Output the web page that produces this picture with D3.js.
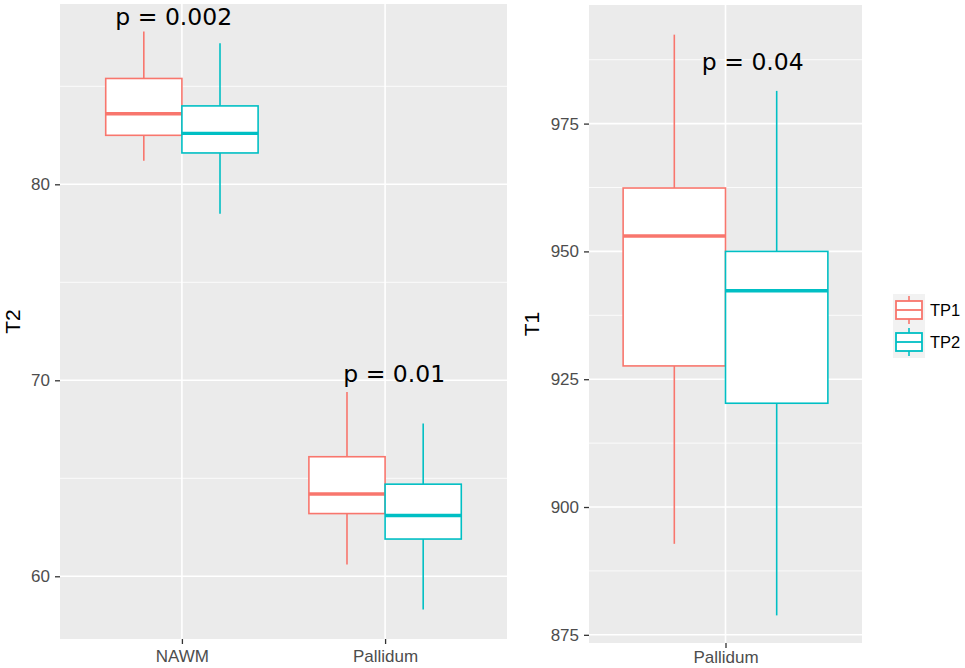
<!DOCTYPE html>
<html>
<head>
<meta charset="utf-8">
<script src="https://cdn.jsdelivr.net/npm/d3@7"></script>
<style>
  body { margin: 0; background: #fff; }
  .tick text { font-family: "Liberation Sans", Arial, sans-serif; }
</style>
</head>
<body>
<div id="chart"></div>
<script>
// data: [lower whisker, Q1, median, Q3, upper whisker]
var groups = ["TP1", "TP2"];
var colors = ["#F8766D", "#00BFC4"];

var t2Regions = ["NAWM", "Pallidum"];
var t2TP1 = [[81.2, 82.5, 83.6, 85.4, 87.8], [60.6, 63.2, 64.2, 66.1, 69.4]];
var t2TP2 = [[78.5, 81.6, 82.6, 84.0, 87.2], [58.3, 61.9, 63.1, 64.7, 67.8]];
var t2Ticks = [60, 70, 80];
var t2Minor = [65, 75, 85];
var t2PLabels = ["p = 0.002", "p = 0.01"];
var t2PPos = [[0.96, 88.55], [2.045, 70.35]];

var t1Regions = ["Pallidum"];
var t1TP1 = [[892.8, 927.6, 953.0, 962.4, 992.4]];
var t1TP2 = [[878.8, 920.3, 942.3, 950.0, 981.4]];
var t1Ticks = [875, 900, 925, 950, 975];
var t1Minor = [887.5, 912.5, 937.5, 962.5, 987.5];
var t1PLabels = ["p = 0.04"];
var t1PPos = [[1.12, 987.1]];

var width = 965, height = 668;

var svg = d3.select("#chart")
            .append("svg")
            .attr("width", width)
            .attr("height", height);

svg.append("rect")
   .attr("width", width)
   .attr("height", height)
   .attr("fill", "#fff");

function drawPanel(opt) {
    var w = opt.right - opt.left,
        h = opt.bottom - opt.top;

    var canvas = svg.append("g")
                .attr("transform", "translate(" + opt.left + "," + opt.top + ")");

    var n = opt.regions.length;
    var x = d3.scaleLinear().domain([0.4, n + 0.6]).range([0, w]),
        y = d3.scaleLinear().domain(opt.yDomain).range([h, 0]);

    canvas.append("rect")
          .attr("width", w)
          .attr("height", h)
          .attr("fill", "#ebebeb");

    // minor then major grid
    canvas.selectAll(".minor")
          .data(opt.minor)
          .enter()
          .append("line")
          .attr("x1", 0).attr("x2", w)
          .attr("y1", function(d) { return y(d); })
          .attr("y2", function(d) { return y(d); })
          .attr("stroke", "#fff")
          .attr("stroke-width", 0.8);
    canvas.selectAll(".majory")
          .data(opt.ticks)
          .enter()
          .append("line")
          .attr("x1", 0).attr("x2", w)
          .attr("y1", function(d) { return y(d); })
          .attr("y2", function(d) { return y(d); })
          .attr("stroke", "#fff")
          .attr("stroke-width", 1.6);
    canvas.selectAll(".majorx")
          .data(opt.regions)
          .enter()
          .append("line")
          .attr("y1", 0).attr("y2", h)
          .attr("x1", function(d, i) { return x(i + 1); })
          .attr("x2", function(d, i) { return x(i + 1); })
          .attr("stroke", "#fff")
          .attr("stroke-width", 1.6);

    // axes
    var yAxis = canvas.append("g")
            .call(d3.axisLeft(y).tickValues(opt.ticks).tickSize(5).tickPadding(5));
    var xAxis = canvas.append("g")
            .attr("transform", "translate(0," + h + ")")
            .call(d3.axisBottom(x).tickValues(d3.range(1, n + 1)).tickSize(5).tickPadding(opt.xPad)
                  .tickFormat(function(d) { return opt.regions[d - 1]; }));
    [yAxis, xAxis].forEach(function(a) {
        a.select(".domain").remove();
        a.selectAll(".tick line").attr("stroke", "#333").attr("stroke-width", 1.3);
        a.selectAll(".tick text")
         .attr("fill", "#4d4d4d")
         .attr("font-size", "17px");
    });

    canvas.append("text")
          .attr("transform", "rotate(-90)")
          .attr("x", -h / 2)
          .attr("y", opt.titleX - opt.left)
          .attr("dy", "0.36em")
          .attr("text-anchor", "middle")
          .attr("font-family", "Liberation Sans, Arial, sans-serif")
          .attr("font-size", "21px")
          .attr("fill", "#000")
          .text(opt.title);

    // boxes
    var bw = opt.boxWidth;
    opt.series.forEach(function(stats, g) {
        var off = (g - 0.5) * bw;
        var grp = canvas.append("g");
        stats.forEach(function(s, i) {
            var cx = x(i + 1 + off),
                x0 = x(i + 1 + off - bw / 2),
                x1 = x(i + 1 + off + bw / 2);
            grp.append("line")
               .attr("x1", cx).attr("x2", cx)
               .attr("y1", y(s[4])).attr("y2", y(s[3]))
               .attr("stroke", colors[g]).attr("stroke-width", 1.6);
            grp.append("line")
               .attr("x1", cx).attr("x2", cx)
               .attr("y1", y(s[1])).attr("y2", y(s[0]))
               .attr("stroke", colors[g]).attr("stroke-width", 1.6);
            grp.append("rect")
               .attr("x", x0)
               .attr("y", y(s[3]))
               .attr("width", x1 - x0)
               .attr("height", y(s[1]) - y(s[3]))
               .attr("fill", "#fff")
               .attr("stroke", colors[g])
               .attr("stroke-width", 1.6);
            grp.append("line")
               .attr("x1", x0).attr("x2", x1)
               .attr("y1", y(s[2])).attr("y2", y(s[2]))
               .attr("stroke", colors[g]).attr("stroke-width", 3.4);
        });
    });

    canvas.selectAll(".plabel")
          .data(opt.pLabels)
          .enter()
          .append("text")
          .attr("x", function(d, i) { return x(opt.pPos[i][0]); })
          .attr("y", function(d, i) { return y(opt.pPos[i][1]); })
          .attr("dy", "0.36em")
          .attr("text-anchor", "middle")
          .attr("font-family", "DejaVu Sans, sans-serif")
          .attr("font-size", "23.5px")
          .attr("fill", "#000")
          .text(function(d) { return d; });
}

drawPanel({
    left: 60, right: 507, top: 4, bottom: 639,
    regions: t2Regions, series: [t2TP1, t2TP2],
    yDomain: [56.8, 89.2], ticks: t2Ticks, minor: t2Minor,
    boxWidth: 0.375, title: "T2", titleX: 12, xPad: 6,
    pLabels: t2PLabels, pPos: t2PPos
});

drawPanel({
    left: 589, right: 862, top: 5, bottom: 643,
    regions: t1Regions, series: [t1TP1, t1TP2],
    yDomain: [873.4, 998.2], ticks: t1Ticks, minor: t1Minor,
    boxWidth: 0.45, title: "T1", titleX: 531, xPad: 3,
    pLabels: t1PLabels, pPos: t1PPos
});

// legend
var legend = svg.append("g").attr("transform", "translate(893,294)");
var key = 32;
groups.forEach(function(name, i) {
    var k = legend.append("g").attr("transform", "translate(0," + (i * key) + ")");
    k.append("rect")
     .attr("width", key).attr("height", key)
     .attr("fill", "#f2f2f2");
    k.append("line")
     .attr("x1", key / 2).attr("x2", key / 2)
     .attr("y1", 2).attr("y2", key - 2)
     .attr("stroke", colors[i]).attr("stroke-width", 1.6);
    k.append("rect")
     .attr("x", 3).attr("y", 7)
     .attr("width", key - 6).attr("height", key - 14)
     .attr("fill", "#fff")
     .attr("stroke", colors[i]).attr("stroke-width", 1.8);
    k.append("line")
     .attr("x1", 3).attr("x2", key - 3)
     .attr("y1", key / 2).attr("y2", key / 2)
     .attr("stroke", colors[i]).attr("stroke-width", 1.8);
    k.append("text")
     .attr("x", key + 5)
     .attr("y", key / 2)
     .attr("dy", "0.36em")
     .attr("font-family", "Liberation Sans, Arial, sans-serif")
     .attr("font-size", "16.5px")
     .attr("fill", "#000")
     .text(name);
});
</script>
</body>
</html>
